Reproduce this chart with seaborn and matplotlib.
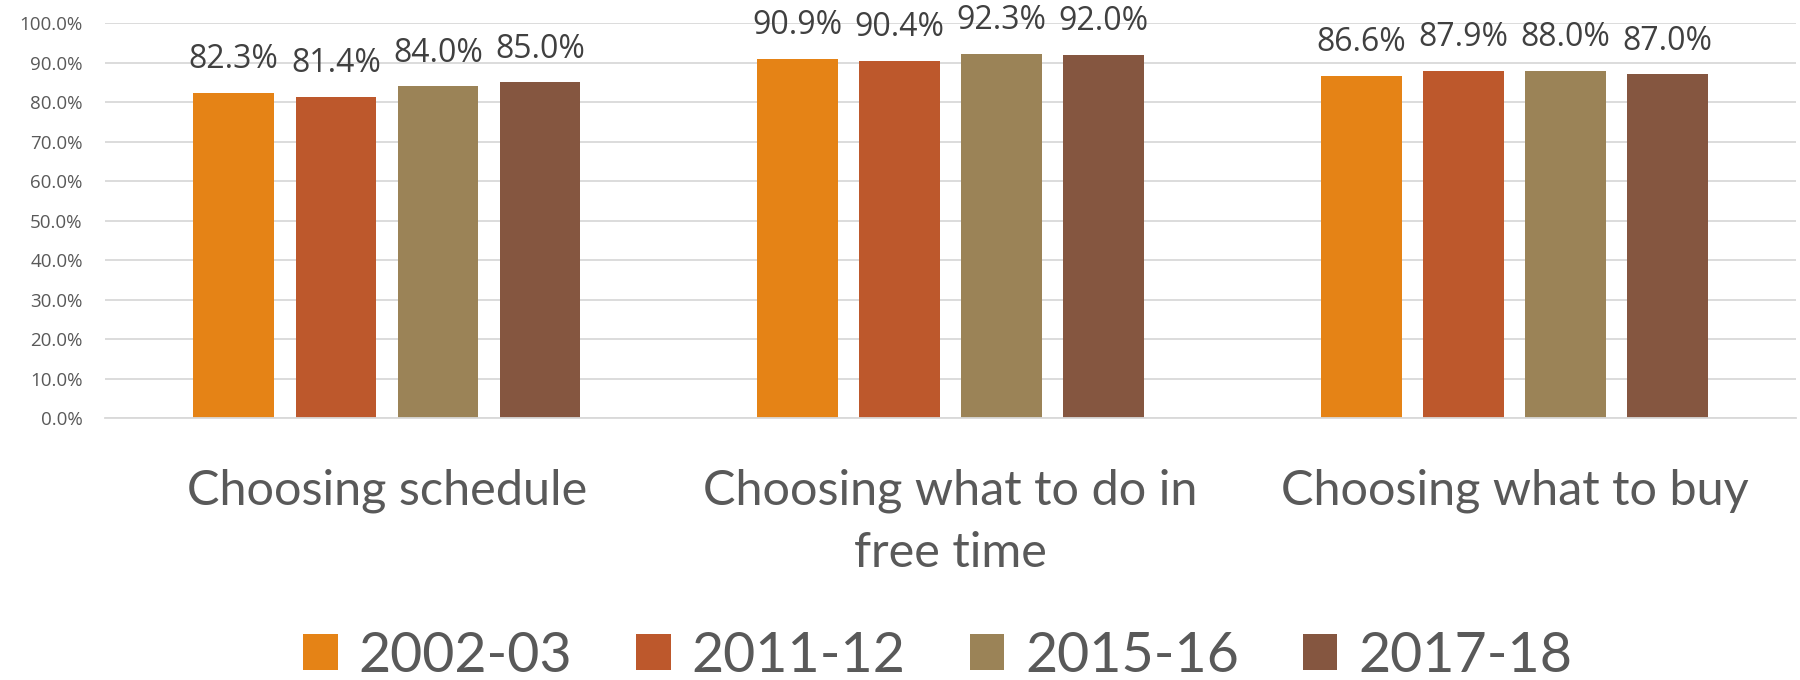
import matplotlib
matplotlib.use("Agg")
import matplotlib.pyplot as plt
import seaborn as sns
import pandas as pd
from matplotlib.patches import Patch

categories = ["Choosing schedule", "Choosing what to do in\nfree time", "Choosing what to buy"]
years = ["2002-03", "2011-12", "2015-16", "2017-18"]
v2002 = [82.3, 90.9, 86.6]
v2011 = [81.4, 90.4, 87.9]
v2015 = [84.0, 92.3, 88.0]
v2017 = [85.0, 92.0, 87.0]
colors = ["#E58316", "#BD582C", "#9B8357", "#855640"]
yticks = [0, 10, 20, 30, 40, 50, 60, 70, 80, 90, 100]

rows = []
for yr, vals in zip(years, [v2002, v2011, v2015, v2017]):
    for c, v in zip(categories, vals):
        rows.append({"category": c, "year": yr, "value": v})
df = pd.DataFrame(rows)

sns.set_theme(style="white")
plt.rcParams["font.family"] = ["Lato", "DejaVu Sans"]
text_color = "#595959"

fig = plt.figure(figsize=(18, 6.8), dpi=100)
ax = fig.add_axes([0.0583, 0.385, 0.9397, 0.581])

sns.barplot(data=df, x="category", y="value", hue="year", hue_order=years,
            palette=colors, width=0.724, gap=0.21, ax=ax, legend=False,
            saturation=1, edgecolor="none", linewidth=0)

ax.set_ylim(0, 100)
ax.set_xlim(-0.5, 2.5)
ax.set_yticks(yticks)
ax.set_yticklabels([f"{t:.1f}%" for t in yticks], fontsize=13.5, color=text_color,
                   family=["Open Sans", "DejaVu Sans"])
ax.tick_params(axis="y", length=0, pad=16)
ax.tick_params(axis="x", length=0, pad=36, labelsize=35, colors=text_color)
for lbl in ax.get_xticklabels():
    lbl.set_linespacing(1.5)
ax.set_xlabel("")
ax.set_ylabel("")
ax.grid(axis="y", color="#D9D9D9", linewidth=1.3)
ax.set_axisbelow(True)
for s in ["top", "right", "left"]:
    ax.spines[s].set_visible(False)
ax.spines["bottom"].set_color("#D9D9D9")
ax.spines["bottom"].set_linewidth(1.3)

for cont in ax.containers:
    ax.bar_label(cont, fmt="%.1f%%", padding=12, fontsize=23, color="#404040",
                 family=["Open Sans", "DejaVu Sans"])

handles = [Patch(facecolor=c, edgecolor="none") for c in colors]
fig.legend(handles, years, loc="center", bbox_to_anchor=(0.521, 0.035), ncol=4,
           frameon=False, fontsize=40, labelcolor=text_color,
           handlelength=0.62, handleheight=0.62, handletextpad=0.38,
           columnspacing=1.15)

fig.savefig("out.png", dpi=100)
